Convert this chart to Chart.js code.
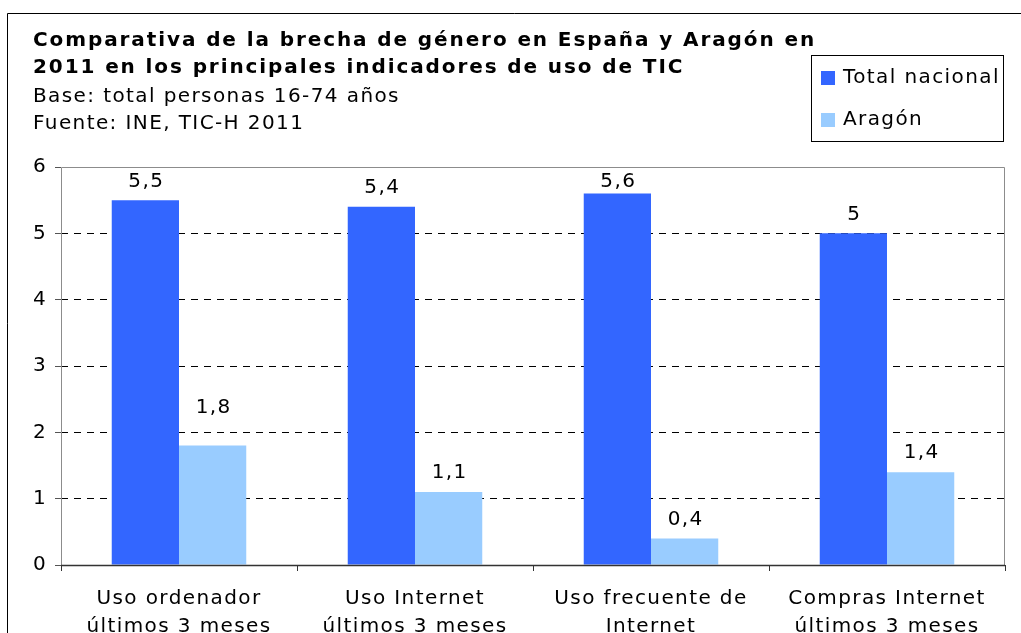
<!DOCTYPE html>
<html>
<head>
<meta charset="utf-8">
<script src="https://cdn.jsdelivr.net/npm/chart.js@4.4.1/dist/chart.umd.min.js"></script>
<style>
  html, body { margin: 0; padding: 0; background: #fff; overflow: hidden; }
  #wrap { position: relative; width: 1021px; height: 633px; }
</style>
</head>
<body>
<div id="wrap"><canvas id="brechaChart"></canvas></div>
<script>
// Chart data
const categories = [
  ['Uso ordenador', 'últimos 3 meses'],
  ['Uso Internet', 'últimos 3 meses'],
  ['Uso frecuente de', 'Internet'],
  ['Compras Internet', 'últimos 3 meses']
];
const totalNacional = [5.5, 5.4, 5.6, 5];
const aragon = [1.8, 1.1, 0.4, 1.4];
const seriesNames = ['Total nacional', 'Aragón'];
const yTicks = [0, 1, 2, 3, 4, 5, 6];

const titleLines = [
  { text: 'Comparativa de la brecha de género en España y Aragón en', bold: true },
  { text: '2011 en los principales indicadores de uso de TIC', bold: true },
  { text: 'Base: total personas 16-74 años', bold: false },
  { text: 'Fuente: INE, TIC-H 2011', bold: false }
];

const FONT = '"DejaVu Sans", Verdana, sans-serif';
const BLUE = '#3366FF';
const LIGHT = '#99CCFF';
const SPACING = '1.4px';

const fmt = v => String(v).replace('.', ',');

// frame, title, legend box and plot border
const decorPlugin = {
  id: 'decor',
  beforeDraw(chart) {
    const ctx = chart.ctx;
    ctx.letterSpacing = SPACING; // wider, Verdana-like text for all labels
    ctx.save();
    ctx.fillStyle = '#fff';
    ctx.fillRect(0, 0, chart.width, chart.height);
    ctx.strokeStyle = '#000';
    ctx.lineWidth = 1;
    ctx.beginPath();
    ctx.moveTo(7.5, chart.height);
    ctx.lineTo(7.5, 13.5);
    ctx.lineTo(chart.width, 13.5);
    ctx.stroke();
    ctx.restore();
  },
  beforeDatasetsDraw(chart) {
    const { ctx, chartArea: a } = chart;
    ctx.save();
    ctx.strokeStyle = '#8c8c8c';
    ctx.lineWidth = 1;
    ctx.beginPath();
    ctx.moveTo(a.left + 0.5, a.bottom);
    ctx.lineTo(a.left + 0.5, a.top + 0.5);
    ctx.lineTo(a.right - 0.5, a.top + 0.5);
    ctx.lineTo(a.right - 0.5, a.bottom);
    ctx.stroke();
    ctx.restore();
  },
  afterDatasetsDraw(chart) {
    const ctx = chart.ctx;
    const a = chart.chartArea;
    ctx.save();
    ctx.font = '20px ' + FONT;
    ctx.fillStyle = '#000';
    ctx.textAlign = 'center';
    ctx.textBaseline = 'middle';
    chart.data.datasets.forEach((ds, di) => {
      chart.getDatasetMeta(di).data.forEach((bar, i) => {
        // the 1,8 label sits above the 2 gridline in the original
        const lift = (di === 1 && i === 0) ? 38 : 19;
        const y = Math.max(bar.y - lift, a.top + 15);
        ctx.fillText(fmt(ds.data[i]), bar.x + 1, y);
      });
    });
    // x axis line on top
    ctx.strokeStyle = '#333';
    ctx.lineWidth = 1.5;
    ctx.beginPath();
    ctx.moveTo(a.left, a.bottom + 0.5);
    ctx.lineTo(a.right, a.bottom + 0.5);
    ctx.stroke();
    ctx.restore();
  },
  afterDraw(chart) {
    const ctx = chart.ctx;
    ctx.save();
    ctx.fillStyle = '#000';
    ctx.textBaseline = 'middle';
    ctx.textAlign = 'left';
    const ys = [41, 68, 97, 124];
    titleLines.forEach((l, i) => {
      ctx.font = (l.bold ? 'bold ' : '') + '20px ' + FONT;
      ctx.letterSpacing = l.bold ? '1.9px' : SPACING;
      ctx.fillText(l.text, 33, ys[i]);
    });
    // legend
    ctx.letterSpacing = SPACING;
    ctx.strokeStyle = '#000';
    ctx.lineWidth = 1;
    ctx.strokeRect(811.5, 55.5, 192, 86);
    ctx.font = '20px ' + FONT;
    const colors = chart.data.datasets.map(d => d.backgroundColor);
    const ly = [78, 120];
    seriesNames.forEach((name, i) => {
      ctx.fillStyle = colors[i];
      ctx.fillRect(821, ly[i] - 7, 14, 14);
      ctx.fillStyle = '#000';
      ctx.fillText(name, 843, ly[i]);
    });
    ctx.restore();
  }
};

new Chart(document.getElementById('brechaChart'), {
  type: 'bar',
  data: {
    labels: categories,
    datasets: [
      { label: seriesNames[0], data: totalNacional, backgroundColor: BLUE },
      { label: seriesNames[1], data: aragon, backgroundColor: LIGHT }
    ]
  },
  options: {
    responsive: true,
    maintainAspectRatio: false,
    animation: false,
    layout: { padding: { left: 0, top: 167, right: 16, bottom: 0 } },
    datasets: { bar: { barPercentage: 1, categoryPercentage: 0.57 } },
    plugins: {
      legend: { display: false },
      title: { display: false },
      tooltip: { enabled: false }
    },
    scales: {
      x: {
        afterFit: s => { s.height = 68; },
        grid: {
          offset: true,
          drawOnChartArea: false,
          tickLength: 6,
          tickColor: '#333'
        },
        border: { display: false },
        ticks: {
          color: '#000',
          padding: 14,
          maxRotation: 0,
          autoSkip: false,
          font: { family: FONT, size: 20, lineHeight: 1.4 }
        }
      },
      y: {
        min: 0,
        max: 6,
        afterFit: s => { s.width = 61; },
        afterBuildTicks: s => { s.ticks = yTicks.map(v => ({ value: v })); },
        grid: {
          color: c => (c.tick && (c.tick.value === 0 || c.tick.value === 6)) ? 'rgba(0,0,0,0)' : '#000',
          lineWidth: 1,
          tickLength: 6,
          tickColor: '#555',
          tickBorderDash: []
        },
        border: { display: false, dash: [7, 6] },
        ticks: {
          color: '#000',
          padding: 8,
          font: { family: FONT, size: 20 }
        }
      }
    }
  },
  plugins: [decorPlugin]
});
</script>
</body>
</html>
